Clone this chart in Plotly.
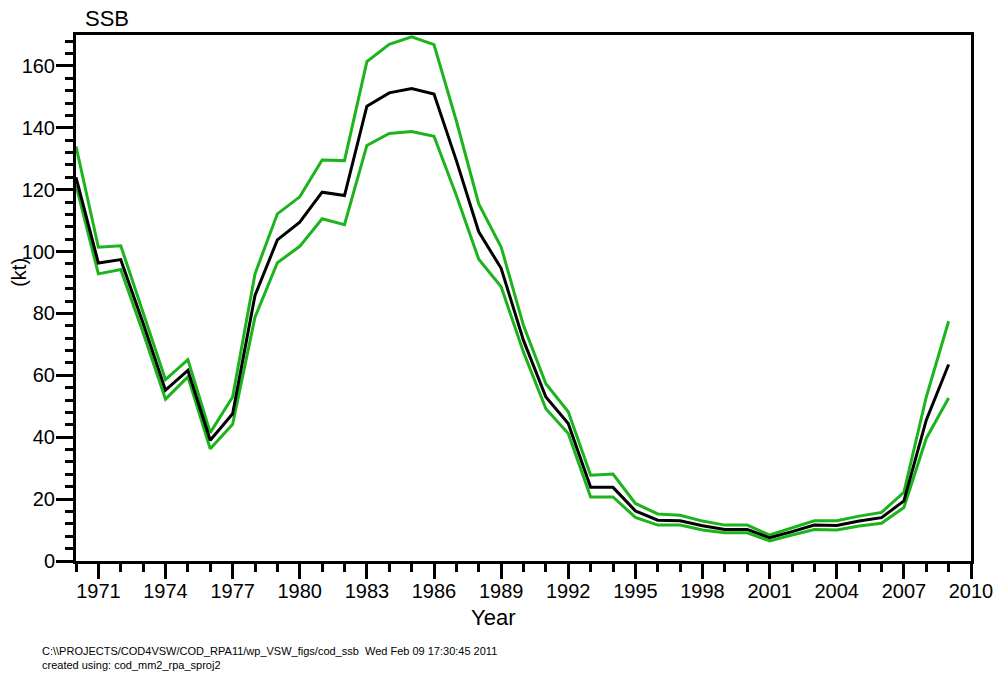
import plotly.graph_objects as go

# Spawning stock biomass (kt) with upper / lower confidence bounds
years = list(range(1970, 2010))
ssb = [124.0, 96.3, 97.4, 76.8, 55.2, 61.6, 39.0, 47.6, 85.8, 103.8,
       109.5, 119.2, 118.1, 147.0, 151.3, 152.7, 150.9, 129.4, 106.4, 94.6,
       71.3, 53.0, 44.4, 23.8, 23.8, 16.2, 13.2, 13.0, 11.4, 10.2,
       10.2, 7.5, 9.5, 11.6, 11.5, 12.9, 14.0, 19.4, 45.5, 63.5]
ssb_upper = [134.0, 101.4, 101.9, 80.6, 58.6, 65.1, 41.5, 53.0, 92.8, 112.2,
             117.7, 129.6, 129.4, 161.4, 167.0, 169.4, 166.9, 142.2, 115.4, 101.5,
             76.1, 57.3, 48.2, 27.7, 28.1, 18.6, 15.2, 14.8, 12.9, 11.6,
             11.6, 8.4, 10.8, 13.0, 13.0, 14.5, 15.7, 22.2, 53.0, 77.5]
ssb_lower = [121.5, 92.8, 94.2, 73.8, 52.3, 59.5, 36.3, 44.2, 78.8, 96.4,
             101.7, 110.6, 108.7, 134.3, 138.2, 138.8, 137.3, 118.1, 97.5, 88.6,
             67.5, 49.2, 41.2, 20.7, 20.7, 14.1, 11.6, 11.6, 10.0, 9.1,
             9.1, 6.5, 8.4, 10.2, 10.0, 11.3, 12.2, 17.3, 39.6, 52.7]

x_ticks = list(range(1971, 2011, 3))
y_ticks = list(range(0, 161, 20))

FONT = "Liberation Sans, Arial, sans-serif"
GREEN = "#1db31d"

fig = go.Figure()
for band in (ssb_upper, ssb_lower):
    fig.add_trace(go.Scatter(x=years, y=band, mode="lines",
                             line=dict(color=GREEN, width=3), hoverinfo="skip"))
fig.add_trace(go.Scatter(x=years, y=ssb, mode="lines",
                         line=dict(color="black", width=3)))

axis_common = dict(
    showgrid=False, zeroline=False, showline=True, linecolor="black",
    linewidth=3, mirror=True, ticks="outside", tickcolor="black",
    tickwidth=3, tickfont=dict(family=FONT, size=20, color="black"),
)

fig.update_xaxes(range=[1970, 2010], tickvals=x_ticks, ticklen=15,
                 ticklabelstandoff=-5,
                 minor=dict(dtick=1, ticklen=8, tickwidth=3, tickcolor="black",
                            ticks="outside"),
                 **axis_common)
fig.update_yaxes(range=[0, 170], tickvals=y_ticks, ticklen=17,
                 ticklabelstandoff=-3,
                 minor=dict(dtick=4, ticklen=8, tickwidth=3, tickcolor="black",
                            ticks="outside"),
                 **axis_common)

text_font = dict(family=FONT, color="black")
annotations = [
    dict(text="SSB", x=0.008, y=1.032, xanchor="left", yanchor="middle",
         font=dict(size=22, **text_font)),
    dict(text="Year", x=0.466, y=-0.108, xanchor="center", yanchor="middle",
         font=dict(size=22, **text_font)),
    dict(text="(kt)", x=-0.063, y=0.549, xanchor="center", yanchor="middle",
         textangle=-90, font=dict(size=20, **text_font)),
    dict(text="C:\\\\PROJECTS/COD4VSW/COD_RPA11/wp_VSW_figs/cod_ssb  Wed Feb 09 17:30:45 2011",
         x=-0.04, y=-0.171, xanchor="left", yanchor="middle",
         font=dict(size=11, **text_font)),
    dict(text="created using: cod_mm2_rpa_sproj2",
         x=-0.04, y=-0.198, xanchor="left", yanchor="middle",
         font=dict(size=11, **text_font)),
]
for a in annotations:
    a.update(xref="paper", yref="paper", showarrow=False)

fig.update_layout(
    width=1005, height=681,
    margin=dict(l=76, r=29, t=35, b=120),
    paper_bgcolor="white", plot_bgcolor="white",
    showlegend=False, annotations=annotations,
)

fig.write_html("out.html")
